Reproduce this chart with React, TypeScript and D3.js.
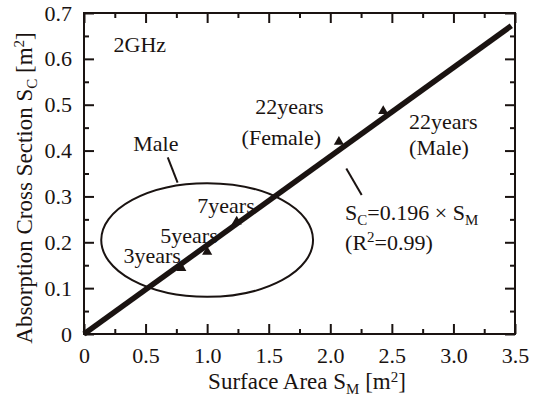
import React, { useRef, useEffect } from "react";
import { select, scaleLinear, axisBottom, axisTop, axisLeft, axisRight, range, line, symbol, symbolTriangle } from "d3";

// data
const xMajor = [0, 0.5, 1.0, 1.5, 2.0, 2.5, 3.0, 3.5];
const xMinor = range(0.25, 3.5, 0.5);
const yMajor = [0, 0.1, 0.2, 0.3, 0.4, 0.5, 0.6, 0.7];
const yMinor = range(0.05, 0.7, 0.1);
const xTickLabels = ["0", "0.5", "1.0", "1.5", "2.0", "2.5", "3.0", "3.5"];
const yTickLabels = ["0", "0.1", "0.2", "0.3", "0.4", "0.5", "0.6", "0.7"];

const ages = ["3years", "5years", "7years", "22years (Female)", "22years (Male)"];
const surfaceArea = [0.79, 1.0, 1.24, 2.07, 2.43];
const crossSection = [0.144, 0.179, 0.245, 0.419, 0.486];

const fitLine: [number, number][] = [[0, 0], [3.47, 0.672]];
const maleGroup = { cx: 1.0, cy: 0.205, rx: 0.86, ry: 0.124 };

const W = 539, H = 397;
const M = { left: 84, right: 24, top: 13, bottom: 63 };
const FONT = "Liberation Serif";

function App() {
  const svgRef = useRef<SVGSVGElement>(null);

  const x = scaleLinear().domain([0, 3.5]).range([M.left, W - M.right]);
  const y = scaleLinear().domain([0, 0.7]).range([H - M.bottom, M.top]);

  useEffect(() => {
    const svg = select(svgRef.current);
    const fmtX = (d: any) => xTickLabels[xMajor.indexOf(d)] ?? "";
    const fmtY = (d: any) => yTickLabels[yMajor.findIndex((v) => Math.abs(v - d) < 1e-9)] ?? "";

    const style = (g: any) => {
      g.select(".domain").remove();
      g.selectAll("line").attr("stroke", "#1a1311").attr("stroke-width", 2);
      g.selectAll("text").style("font-family", FONT).style("font-size", "22px").attr("fill", "#1a1311");
    };

    svg.select(".x-major").attr("transform", `translate(0,${y(0)})`)
      .call(axisBottom(x).tickValues(xMajor).tickFormat(fmtX).tickSizeInner(-10).tickSizeOuter(0).tickPadding(13) as any)
      .call(style);
    svg.select(".x-minor").attr("transform", `translate(0,${y(0)})`)
      .call(axisBottom(x).tickValues(xMinor).tickFormat(() => "").tickSizeInner(-5).tickSizeOuter(0) as any)
      .call(style);
    svg.select(".x-top").attr("transform", `translate(0,${y(0.7)})`)
      .call(axisTop(x).tickValues(xMajor).tickFormat(() => "").tickSizeInner(-10).tickSizeOuter(0) as any)
      .call(style);
    svg.select(".x-top-minor").attr("transform", `translate(0,${y(0.7)})`)
      .call(axisTop(x).tickValues(xMinor).tickFormat(() => "").tickSizeInner(-5).tickSizeOuter(0) as any)
      .call(style);

    svg.select(".y-major").attr("transform", `translate(${x(0)},0)`)
      .call(axisLeft(y).tickValues(yMajor).tickFormat(fmtY).tickSizeInner(-10).tickSizeOuter(0).tickPadding(12) as any)
      .call(style);
    svg.select(".y-minor").attr("transform", `translate(${x(0)},0)`)
      .call(axisLeft(y).tickValues(yMinor).tickFormat(() => "").tickSizeInner(-5).tickSizeOuter(0) as any)
      .call(style);
    svg.select(".y-right").attr("transform", `translate(${x(3.5)},0)`)
      .call(axisRight(y).tickValues(yMajor).tickFormat(() => "").tickSizeInner(-10).tickSizeOuter(0) as any)
      .call(style);
    svg.select(".y-right-minor").attr("transform", `translate(${x(3.5)},0)`)
      .call(axisRight(y).tickValues(yMinor).tickFormat(() => "").tickSizeInner(-5).tickSizeOuter(0) as any)
      .call(style);
  }, []);

  const fit = line<[number, number]>().x((d) => x(d[0])).y((d) => y(d[1]));
  const tri = symbol().type(symbolTriangle).size(45)();
  const ink = "#1a1311";
  const txt = { style: { fontFamily: FONT, fontSize: 22 }, fill: ink };
  const title = { style: { fontFamily: FONT, fontSize: 23 }, fill: ink };
  const sub = { style: { fontSize: 15 } };

  return (
    <svg ref={svgRef} width={W} height={H} style={{ position: "absolute", left: 0, top: 0, background: "#fff" }}>
      <rect x={x(0)} y={y(0.7)} width={x(3.5) - x(0)} height={y(0) - y(0.7)} fill="none" stroke={ink} strokeWidth={2} />
      <g className="x-major"></g>
      <g className="x-minor"></g>
      <g className="x-top"></g>
      <g className="x-top-minor"></g>
      <g className="y-major"></g>
      <g className="y-minor"></g>
      <g className="y-right"></g>
      <g className="y-right-minor"></g>

      <ellipse
        cx={x(maleGroup.cx)}
        cy={y(maleGroup.cy)}
        rx={x(maleGroup.rx) - x(0)}
        ry={y(0) - y(maleGroup.ry)}
        fill="none"
        stroke={ink}
        strokeWidth={2}
      />

      {surfaceArea.map((sa, i) => (
        <path key={ages[i]} d={tri as string} transform={`translate(${x(sa)},${y(crossSection[i])})`} fill={ink} />
      ))}
      <path d={fit(fitLine) as string} fill="none" stroke={ink} strokeWidth={5.5} />

      {/* annotations */}
      <text {...txt} x={x(0.24)} y={y(0.615)}>2GHz</text>
      <text {...txt} x={x(0.4)} y={y(0.4)}>Male</text>
      <line x1={x(0.68)} y1={y(0.385)} x2={x(0.76)} y2={y(0.33)} stroke={ink} strokeWidth={2} />
      <text {...txt} x={x(0.32)} y={y(0.155)}>{ages[0]}</text>
      <text {...txt} x={x(0.62)} y={y(0.198)}>{ages[1]}</text>
      <text {...txt} x={x(0.92)} y={y(0.263)}>{ages[2]}</text>
      <text {...txt} x={x(1.39)} y={y(0.48)}>22years</text>
      <text {...txt} x={x(1.28)} y={y(0.412)}>(Female)</text>
      <text {...txt} x={x(2.64)} y={y(0.448)}>22years</text>
      <text {...txt} x={x(2.64)} y={y(0.39)}>(Male)</text>
      <line x1={x(2.13)} y1={y(0.361)} x2={x(2.255)} y2={y(0.303)} stroke={ink} strokeWidth={2} />
      <text {...txt} x={x(2.12)} y={y(0.248)}>
        S<tspan {...sub} dy={5}>C</tspan>
        <tspan dy={-5}>=0.196 × S</tspan>
        <tspan {...sub} dy={5}>M</tspan>
      </text>
      <text {...txt} x={x(2.12)} y={y(0.183)}>
        (R<tspan {...sub} dy={-8}>2</tspan>
        <tspan dy={8}>=0.99)</tspan>
      </text>

      {/* axis titles */}
      <text {...title} x={307} y={H - 8} textAnchor="middle">
        Surface Area S<tspan {...sub} dy={5}>M</tspan>
        <tspan dy={-5}> [m</tspan>
        <tspan {...sub} dy={-7}>2</tspan>
        <tspan dy={7}>]</tspan>
      </text>
      <text {...title} transform={`translate(32,188) rotate(-90)`} textAnchor="middle">
        Absorption Cross Section S<tspan {...sub} dy={5}>C</tspan>
        <tspan dy={-5}> [m</tspan>
        <tspan {...sub} dy={-8}>2</tspan>
        <tspan dy={8}>]</tspan>
      </text>
    </svg>
  );
}

export default App;
